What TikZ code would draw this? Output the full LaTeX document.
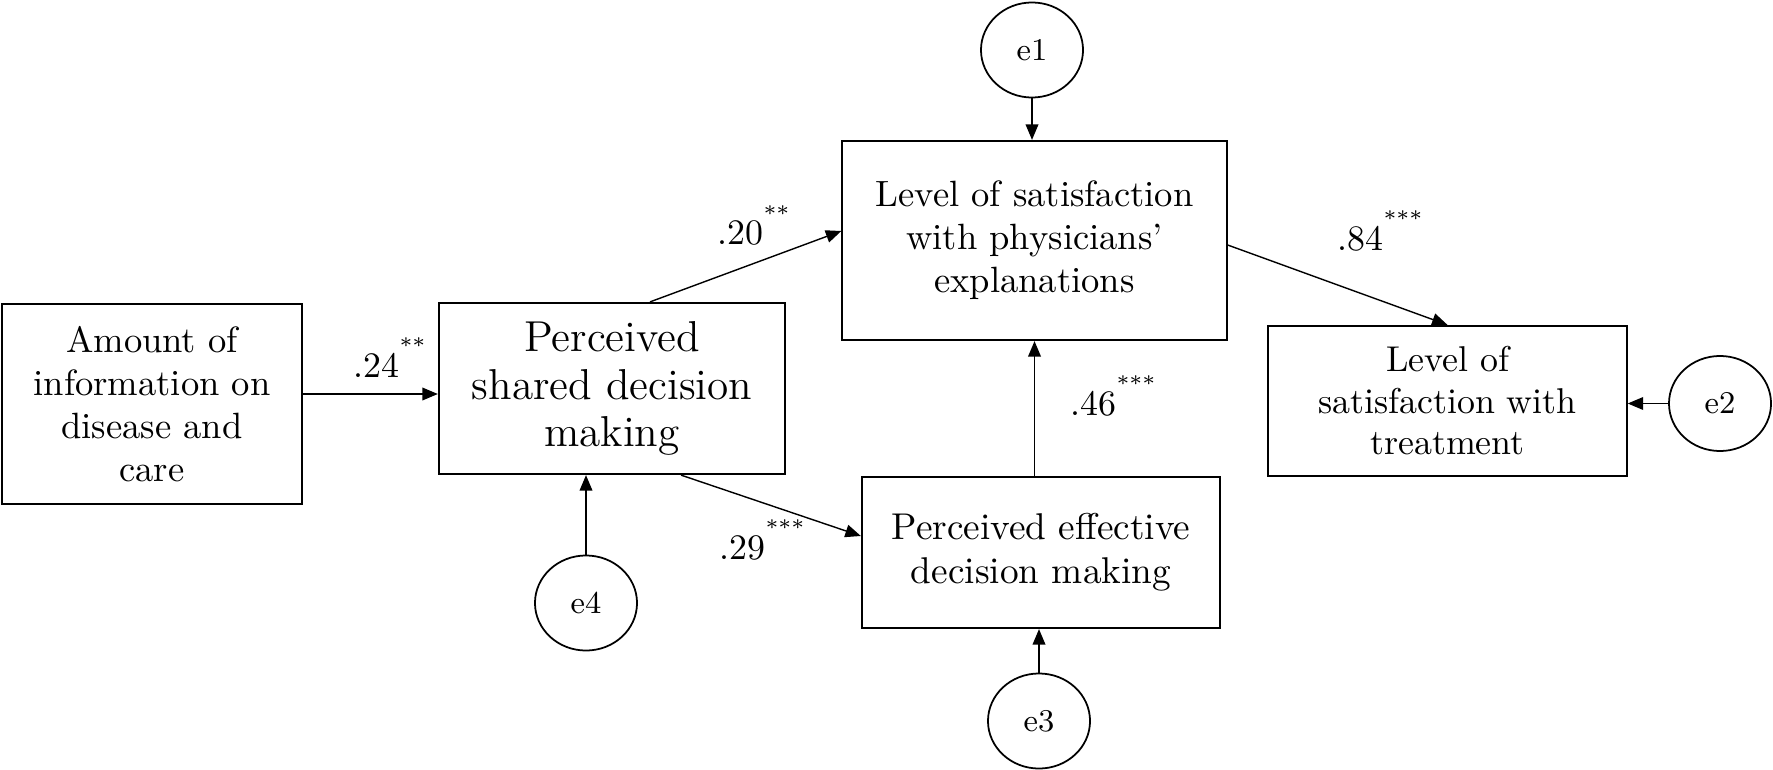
\documentclass[tikz,border=0pt]{standalone}
\usepackage{tikz}
\usepackage{amsmath,amssymb}
\usetikzlibrary{arrows.meta,shapes.geometric}
\newcommand{\sig}[1]{\raisebox{6.6pt}{\fontsize{6}{6}\selectfont #1}}

\begin{document}
\begin{tikzpicture}[x=0.01cm,y=-0.01cm]
            \tikzstyle{every node}+=[inner sep=0pt]
            \tikzstyle{var}=[draw=black, line width=0.6pt, align=center]
            \tikzstyle{err}=[draw=black, line width=0.5pt, ellipse, minimum width=1.02cm, minimum height=0.95cm, font=\fontsize{9}{11}\selectfont]
            \tikzstyle{arr}=[draw=black, line width=0.4pt, -{Triangle[length=4.4pt,width=3.6pt]}]
            \tikzstyle{coef}=[anchor=base west, font=\fontsize{10.2}{12}\selectfont]
            \useasboundingbox (0,0) rectangle (1773,770);
            \node [var, minimum width=3.0cm, minimum height=2.0cm, font=\fontsize{10.4}{12.3}\selectfont] (amount) at (152,404) {Amount of\\information on\\disease and\\care};
            \node [var, minimum width=3.46cm, minimum height=1.71cm, font=\fontsize{12.3}{13.4}\selectfont] (shared) at (612,388.5) {Perceived\\shared decision\\making};
            \node [var, minimum width=3.84cm, minimum height=1.99cm, font=\fontsize{10.4}{12.2}\selectfont] (explan) at (1034.5,240.5) {Level of satisfaction\\with physicians'\\explanations};
            \node [var, minimum width=3.58cm, minimum height=1.51cm, font=\fontsize{10.6}{12.5}\selectfont] (effective) at (1041,552.5) {Perceived effective\\decision making};
            \node [var, minimum width=3.58cm, minimum height=1.50cm, font=\fontsize{10.2}{11.8}\selectfont] (treat) at (1447.5,401) {Level of\\satisfaction with\\treatment};
            \node [err] (e1) at (1032,50) {e1};
            \node [err] (e2) at (1720,403.5) {e2};
            \node [err] (e3) at (1039,721) {e3};
            \node [err] (e4) at (586,603) {e4};
            \draw [arr] ([yshift=-0.055cm]shared.west -| amount.east) -- ([yshift=-0.055cm]shared.west);
            \draw [arr] ([xshift=0.38cm]shared.north) -- ([yshift=0.095cm]explan.west);
            \draw [arr] ([xshift=0.69cm]shared.south) -- ([yshift=0.165cm]effective.west);
            \draw [arr] (explan.south |- effective.north) -- (explan.south);
            \draw [arr] ([yshift=-0.045cm]explan.east) -- (treat.north);
            \draw [arr] (e1.south) -- (e1.south |- explan.north);
            \draw [arr] (e2.west) -- (e2.west -| treat.east);
            \draw [arr] (e3.north) -- (e3.north |- effective.south);
            \draw [arr] (e4.north) -- (e4.north |- shared.south);
            \node [coef] (c24) at (353,377) {.24\sig{**}};
            \node [coef] (c20) at (717,245) {.20\sig{**}};
            \node [coef] (c29) at (719,559) {.29\sig{***}};
            \node [coef] (c46) at (1070,415) {.46\sig{***}};
            \node [coef] (c84) at (1337,250) {.84\sig{***}};
\end{tikzpicture}
\end{document}
